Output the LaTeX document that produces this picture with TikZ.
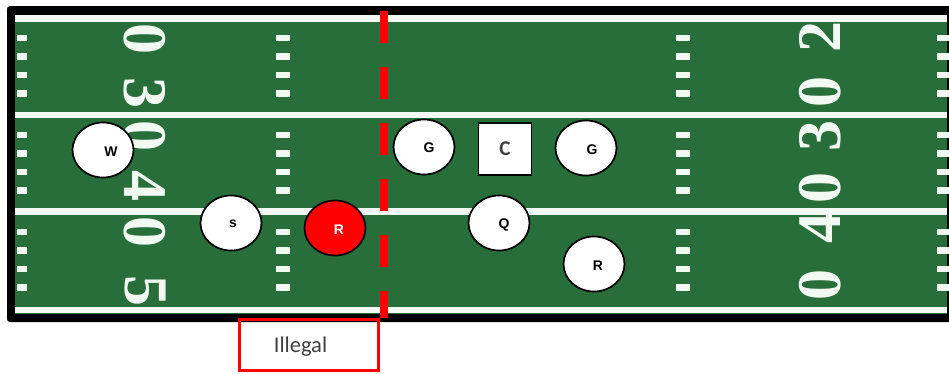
\documentclass[tikz,border=0pt]{standalone}
\usepackage{fontspec}
\newfontfamily\arialfont{Liberation Sans}
\newfontfamily\calibrifont{Carlito}
\newfontfamily\timesfont{Liberation Serif}
\usetikzlibrary{shapes.geometric}
\definecolor{turf}{RGB}{40,110,58}
\definecolor{chalk}{RGB}{242,248,242}
\definecolor{inkgray}{RGB}{64,64,64}
\tikzset{
  player/.style={ellipse, draw, line width=1.7pt, fill=white, minimum width=61pt, minimum height=55pt, inner sep=0pt},
  tag/.style={font=\arialfont\bfseries\fontsize{14}{14}\selectfont, inner sep=0pt},
  yardnum/.style={text=chalk, font=\timesfont\bfseries\fontsize{62}{62}\selectfont, inner sep=0pt},
  hash/.style={chalk, line width=6.5pt},
  yardline/.style={chalk, line width=6.5pt},
}

\begin{document}
\begin{tikzpicture}[x=1pt, y=-1pt]
  \useasboundingbox (0,0) rectangle (949,373);

  % field
  \fill[black, rounded corners=3pt] (7,6) rectangle (960,322);
  \fill[turf] (15,15) rectangle (947,314);
  \foreach \y in {18.5,115,211.5,310}
    \draw[yardline] (15,\y) -- (947,\y);
  \foreach \yb in {38,135,232}
    \foreach \k in {0,...,3}
      \foreach \xc/\w in {22/10,283/14,683/14,943/12}
        \draw[hash] ({\xc-\w/2},{\yb+18.5*\k}) -- ++(\w,0);

  % yard numbers
  \foreach \d/\y [count=\i] in {0/39,3/93,0/136,4/186,0/232,5/291}
    \node[yardnum, rotate=-90] (l\i) at (145,\y) {\d};
  \foreach \d/\y [count=\i] in {2/37,0/92,3/136,0/188,4/228,0/285}
    \node[yardnum, rotate=90] (r\i) at (820,\y) {\d};

  % line of scrimmage
  \draw[red, line width=8pt, dash pattern=on 32pt off 24pt] (384,11) -- (384,318);

  % players
  \node[player] (w) at (103,150) {};
  \node[player] (s) at (231,223) {};
  \node[player, fill=red] (rl) at (335,228) {};
  \node[player] (g1) at (424,147) {};
  \node[rectangle, draw, line width=1.7pt, fill=white, minimum width=53pt, minimum height=52pt,
        text=inkgray, font=\calibrifont\bfseries\fontsize{21}{21}\selectfont] (c) at (505,149) {C};
  \node[player] (g2) at (586,148) {};
  \node[player] (q) at (499,223) {};
  \node[player] (rr) at (594,264) {};

  \node[tag] (wt) at (111,152) {W};
  \node[tag] (st) at (233,224) {s};
  \node[tag, text=white] (rlt) at (339,230) {R};
  \node[tag] (g1t) at (429,148) {G};
  \node[tag] (g2t) at (592,150) {G};
  \node[tag] (qt) at (504,225) {Q};
  \node[tag] (rrt) at (598,266) {R};

  % flag
  \node[draw=red, line width=3pt, minimum width=139pt, minimum height=51pt] (illegal) at (309,345) {};
  \node[text=inkgray, font=\calibrifont\fontsize{22.5}{22.5}\selectfont] (illegaltxt) at (300.5,346.5) {Illegal};
\end{tikzpicture}
\end{document}
